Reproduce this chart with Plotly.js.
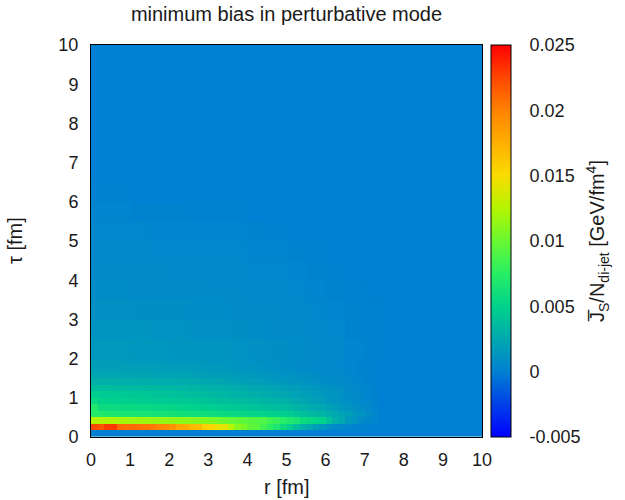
<!DOCTYPE html>
<html>
<head>
<meta charset="utf-8">
<script src="https://cdn.plot.ly/plotly-3.0.1.min.js"></script>
<style>html,body{margin:0;padding:0;background:#fff;}#chart{width:625px;height:500px;}</style>
</head>
<body>
<div id="chart"></div>
<script>
// ---- data (values in units of 1e-4 GeV/fm^4) ----
const zUnit = 1e-4;
const zMin = -0.005;
const zMax = 0.025;

// fine grid: cells of 1/6 fm, r = 0..10 (60 cells), tau = 0..2 (12 rows, bottom first)
const rStepFine = 1 / 6;
const tauStepFine = 1 / 6;
const fineRows = [
  [0,0,0,0,0,0,0,0,0,0,0,0,0,0,0,0,0,0,0,0,0,0,0,0,0,0,0,0,0,0,0,0,0,0,0,0,0,0,0,0,0,0,0,0,0,0,0,0,0,0,0,0,0,0,0,0,0,0,0,0],
  [225,220,230,230,212,210,210,208,206,204,200,198,190,180,178,170,168,156,154,144,142,126,110,106,96,94,84,76,66,57,48,38,30,25,18,14,9,7,5,3,2,1,1,0,0,0,0,0,0,0,0,0,0,0,0,0,0,0,0,0],
  [124,123,123,122,120,119,118,118,117,116,115,114,113,112,111,110,109,108,106,103,101,99,97,95,93,92,90,84,80,74,70,65,58,55,52,50,40,28,24,15,12,7,5,3,0,0,0,0,0,0,0,0,0,0,0,0,0,0,0,0],
  [72,70,69,68,67,66,66,65,65,64,64,63,63,62,62,61,60,60,59,58,57,56,55,54,53,52,51,50,49,48,46,42,39,36,34,32,28,25,21,18,15,12,8,4,0,0,0,0,0,0,0,0,0,0,0,0,0,0,0,0],
  [70,58,58,57,57,56,56,55,55,54,54,53,53,52,52,51,50,49,48,47,46,45,44,43,42,41,40,39,38,37,35,32,29,27,25,23,20,18,15,13,10,8,5,3,0,0,0,0,0,0,0,0,0,0,0,0,0,0,0,0],
  [55,50,50,49,49,48,48,47,47,46,46,45,45,44,44,43,42,41,40,39,38,37,36,35,34,33,32,31,30,29,27,25,23,21,19,17,15,13,11,9,7,5,4,2,0,0,0,0,0,0,0,0,0,0,0,0,0,0,0,0],
  [47,46,46,45,45,44,44,43,43,42,41,41,40,40,39,38,37,36,35,34,33,32,31,30,29,28,27,26,25,24,22,21,19,18,16,15,13,12,10,8,7,5,3,2,0,0,0,0,0,0,0,0,0,0,0,0,0,0,0,0],
  [38,37,37,36,36,36,35,35,35,34,34,34,33,33,33,32,32,31,30,29,29,28,27,26,25,24,23,22,21,20,19,18,16,15,14,13,11,10,9,7,6,4,3,2,0,0,0,0,0,0,0,0,0,0,0,0,0,0,0,0],
  [30,29,29,29,28,28,28,28,27,27,27,27,26,26,26,26,25,24,23,23,22,21,20,20,19,18,17,16,15,14,13,13,12,11,10,9,8,7,6,5,4,3,2,1,0,0,0,0,0,0,0,0,0,0,0,0,0,0,0,0],
  [24,23,23,23,23,22,22,22,22,22,21,21,21,21,21,20,20,19,19,18,18,17,16,16,15,14,14,13,12,11,11,10,9,9,8,7,6,6,5,4,3,2,2,1,0,0,0,0,0,0,0,0,0,0,0,0,0,0,0,0],
  [20,19,19,19,19,18,18,18,18,18,18,17,17,17,17,17,16,16,15,15,14,14,13,13,12,12,11,10,10,9,9,8,7,7,6,5,5,4,4,3,3,2,1,1,0,0,0,0,0,0,0,0,0,0,0,0,0,0,0,0],
  [18,17,17,17,17,16,16,16,16,16,16,15,15,15,15,15,14,14,13,13,13,12,12,11,11,10,10,9,9,8,8,7,7,6,6,5,5,4,4,3,3,2,1,1,0,0,0,0,0,0,0,0,0,0,0,0,0,0,0,0]
];

// coarse grid above: cells of 0.5 fm, r = 0..10 (20 cells), tau = 2..10 (16 rows, bottom first)
const rStepCoarse = 0.5;
const tauStepCoarse = 0.5;
const tauStartCoarse = 2;
const coarseRows = [
  [15,15,14,14,13,13,12,11,10,9,8,6,5,3,1,0,0,0,0,0],
  [12,12,12,11,11,10,10,9,8,7,6,5,4,2,1,0,0,0,0,0],
  [10,10,9,9,9,8,8,7,6,6,5,4,3,2,1,0,0,0,0,0],
  [8,8,7,7,7,7,6,6,5,5,4,3,2,1,0,0,0,0,0,0],
  [6,6,6,6,5,5,5,5,4,4,3,2,1,0,0,0,0,0,0,0],
  [5,5,5,4,4,4,4,4,3,3,2,1,0,0,0,0,0,0,0,0],
  [4,4,4,3,3,3,3,3,2,1,0,0,0,0,0,0,0,0,0,0],
  [3,3,2,2,2,1,1,1,0,0,0,0,0,0,0,0,0,0,0,0],
  [1,1,0,0,0,0,0,0,0,0,0,0,0,0,0,0,0,0,0,0],
  [0,0,0,0,0,0,0,0,0,0,0,0,0,0,0,0,0,0,0,0],
  [0,0,0,0,0,0,0,0,0,0,0,0,0,0,0,0,0,0,0,0],
  [0,0,0,0,0,0,0,0,0,0,0,0,0,0,0,0,0,0,0,0],
  [0,0,0,0,0,0,0,0,0,0,0,0,0,0,0,0,0,0,0,0],
  [0,0,0,0,0,0,0,0,0,0,0,0,0,0,0,0,0,0,0,0],
  [0,0,0,0,0,0,0,0,0,0,0,0,0,0,0,0,0,0,0,0],
  [0,0,0,0,0,0,0,0,0,0,0,0,0,0,0,0,0,0,0,0]
];

const axisTicks = [0,1,2,3,4,5,6,7,8,9,10];
const cbTickVals = [-0.005, 0, 0.005, 0.01, 0.015, 0.02, 0.025];
const cbTickText = ['-0.005', '0', '0.005', '0.01', '0.015', '0.02', '0.025'];

// ---- styling ----
const colorscale = [
  [0.0000, 'rgb(0,0,255)'],
  [0.1667, 'rgb(0,128,210)'],
  [0.3333, 'rgb(0,210,140)'],
  [0.4167, 'rgb(40,238,100)'],
  [0.5000, 'rgb(105,248,50)'],
  [0.5833, 'rgb(180,245,0)'],
  [0.6667, 'rgb(250,220,0)'],
  [0.7500, 'rgb(255,175,0)'],
  [0.8333, 'rgb(255,130,0)'],
  [0.9167, 'rgb(255,70,0)'],
  [1.0000, 'rgb(255,0,0)']
];
const txtColor = '#1a1a1a';
const fontFam = 'Liberation Sans, Arial, sans-serif';
const tickFs = 18;
const titleFs = 20;

const toZ = rows => rows.map(r => r.map(v => v * zUnit));

const fine = {
  type: 'heatmap',
  z: toZ(fineRows),
  x0: rStepFine / 2, dx: rStepFine,
  y0: tauStepFine / 2, dy: tauStepFine,
  zmin: zMin, zmax: zMax,
  colorscale: colorscale,
  zsmooth: false,
  hoverinfo: 'skip',
  colorbar: {
    x: 1.0230, xanchor: 'left', xpad: 0,
    y: 0.5, yanchor: 'middle', ypad: 0,
    len: 1, lenmode: 'fraction',
    thickness: 20, thicknessmode: 'pixels',
    outlinewidth: 1, outlinecolor: '#000',
    tickmode: 'array', tickvals: cbTickVals, ticktext: cbTickText,
    ticks: 'outside', ticklen: 15, tickcolor: 'rgba(0,0,0,0)',
    tickfont: {family: fontFam, size: tickFs, color: txtColor}
  }
};
const coarse = {
  type: 'heatmap',
  z: toZ(coarseRows),
  x0: rStepCoarse / 2, dx: rStepCoarse,
  y0: tauStartCoarse + tauStepCoarse / 2, dy: tauStepCoarse,
  zmin: zMin, zmax: zMax,
  colorscale: colorscale,
  zsmooth: false,
  showscale: false,
  hoverinfo: 'skip'
};

// inner tick dashes on colorbar (both edges), mapped from value -> y-axis units
const cbLeft = 1.0230, cbW = 20 / 391, dash = 6 / 391;
const shapes = [];
cbTickVals.slice(1, -1).forEach(v => {
  const yv = (v - zMin) / (zMax - zMin) * 10;
  shapes.push({type: 'line', xref: 'paper', yref: 'y', x0: cbLeft, x1: cbLeft + dash, y0: yv, y1: yv, line: {color: '#333', width: 1}});
  shapes.push({type: 'line', xref: 'paper', yref: 'y', x0: cbLeft + cbW - dash, x1: cbLeft + cbW, y0: yv, y1: yv, line: {color: '#333', width: 1}});
});

const axisBase = {
  range: [0, 10],
  tickmode: 'array', tickvals: axisTicks,
  ticks: '', showgrid: false, zeroline: false,
  showline: true, mirror: true, linecolor: '#000', linewidth: 1,
  tickfont: {family: fontFam, size: tickFs, color: txtColor},
  automargin: false
};

const layout = {
  width: 625, height: 500,
  margin: {l: 91, r: 143, t: 45, b: 63, pad: 0},
  paper_bgcolor: '#fff', plot_bgcolor: '#fff',
  font: {family: fontFam, size: tickFs, color: txtColor},
  title: {text: 'minimum bias in perturbative mode', x: 0.5, xref: 'paper', xanchor: 'center',
          y: 0.972, yref: 'container', yanchor: 'middle', font: {family: fontFam, size: titleFs, color: txtColor}},
  xaxis: Object.assign({}, axisBase, {ticklabelstandoff: 6}),
  yaxis: Object.assign({}, axisBase, {ticklabelstandoff: 8}),
  shapes: shapes,
  annotations: [
    {
      xref: 'paper', yref: 'paper', x: 0.5, y: (500 - 63 - 487) / 392 * -1 * -1, yanchor: 'middle', xanchor: 'center',
      showarrow: false, text: 'r [fm]', font: {family: fontFam, size: titleFs, color: txtColor}
    },
    {
      xref: 'paper', yref: 'paper', x: (15 - 91) / 391, y: 0.5, xanchor: 'center', yanchor: 'middle',
      textangle: -90, showarrow: false, text: 'τ [fm]', font: {family: fontFam, size: titleFs, color: txtColor}
    },
    {
      xref: 'paper', yref: 'paper', x: (597 - 91) / 391, y: 0.5, xanchor: 'center', yanchor: 'middle',
      textangle: -90, showarrow: false,
      text: 'J\u0305<sub>S</sub>/N<sub>di-jet</sub> [GeV/fm<sup>4</sup>]',
      font: {family: fontFam, size: titleFs, color: txtColor}
    }
  ]
};

Plotly.newPlot('chart', [fine, coarse], layout, {displayModeBar: false, staticPlot: true});
</script>
</body>
</html>
